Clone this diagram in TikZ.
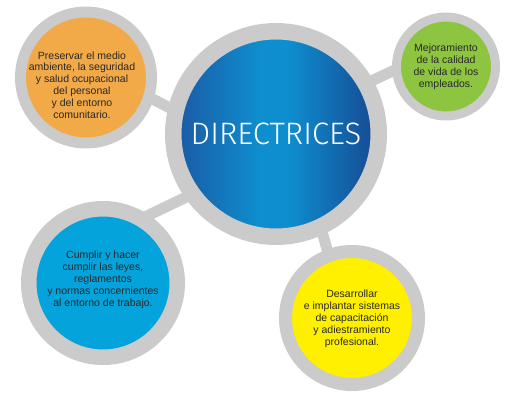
\documentclass[tikz,border=0pt]{standalone}
\usepackage{fontspec}
\setmainfont{Liberation Sans}
\IfFontExistsTF{Fira Sans Light}
  {\newfontfamily\titlefont{Fira Sans Light}}
  {\newfontfamily\titlefont{Fira Sans}}
\usepackage{tikz}
\usetikzlibrary{backgrounds}
\definecolor{RingGray}{RGB}{203,203,203}
\definecolor{NoteOrange}{RGB}{242,169,72}
\definecolor{NoteGreen}{RGB}{141,197,64}
\definecolor{NoteCyan}{RGB}{4,163,220}
\definecolor{NoteYellow}{RGB}{255,240,0}
\definecolor{NoteInk}{RGB}{40,40,40}
\definecolor{HubDark}{RGB}{27,88,163}
\definecolor{HubLight}{RGB}{14,142,206}
\definecolor{HubNavy}{RGB}{22,72,146}
\pgfdeclarehorizontalshading{hubshade}{100bp}{color(0bp)=(HubDark); color(25bp)=(HubDark); color(46bp)=(HubLight); color(53bp)=(HubLight); color(75bp)=(HubNavy); color(100bp)=(HubNavy)}

\begin{document}
\begin{tikzpicture}[x=1pt, y=-1pt,
    bubble/.style n args={3}{circle, draw=RingGray, fill=#1, line width=#2, minimum size=#3, inner sep=0pt},
    note/.style={align=center, text=NoteInk, font=\fontsize{10.5}{11.9}\selectfont},
    link/.style={draw=RingGray, line width=11pt, shorten <=-7pt, shorten >=-7pt}]
    \useasboundingbox (0,0) rectangle (517,400);

    % Central hub
    \node[circle, draw=RingGray, line width=16.5pt, minimum size=205.5pt, inner sep=0pt,
          shade, shading=hubshade, text=white, font=\titlefont\fontsize{31}{31}\selectfont]
          (hub) at (276,134) {DIRECTRICES};

    % Satellites
    \node[bubble={NoteOrange}{11pt}{131pt}] (orange) at (86,77.5) {};
    \node[bubble={NoteGreen}{9pt}{99pt}] (green) at (446,66.5) {};
    \node[bubble={NoteCyan}{15.5pt}{148.5pt}] (cyan) at (103,283) {};
    \node[bubble={NoteYellow}{13pt}{133pt}] (yellow) at (352,318) {};

    % Texts
    \node[note] (orangetext) at ([xshift=-4pt, yshift=-7.5pt]orange.center)
        {Preservar el medio\\ambiente, la seguridad\\y salud ocupacional\\del personal\\y del entorno\\comunitario.};
    \node[note] (greentext) at ([yshift=-0.5pt]green.center)
        {Mejoramiento\\de la calidad\\de vida de los\\empleados.};
    \node[note] (cyantext) at ([yshift=3pt]cyan.center)
        {Cumplir y hacer\\cumplir las leyes,\\reglamentos\\y normas concernientes\\al entorno de trabajo.};
    \node[note] (yellowtext) at ([yshift=-0.5pt]yellow.center)
        {Desarrollar\\e implantar sistemas\\de capacitación\\y adiestramiento\\profesional.};

    % Links behind the circles
    \begin{scope}[on background layer]
        \draw[link] (hub.166) -- (orange.-18);
        \draw[link] (hub.29) -- (green.185);
        \draw[link] (hub.215) -- (cyan.56);
        \draw[link] (hub.-65) -- (yellow.110);
    \end{scope}
\end{tikzpicture}
\end{document}
